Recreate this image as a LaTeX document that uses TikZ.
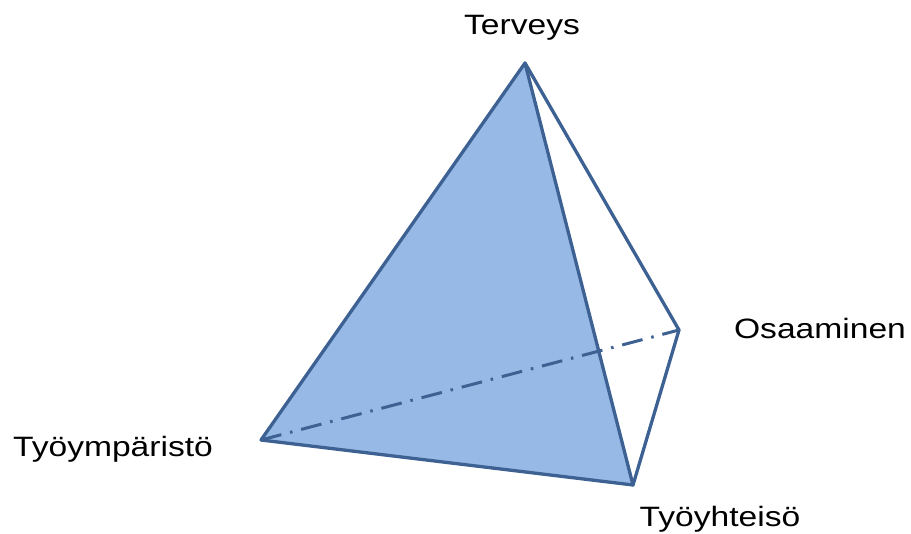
\documentclass[tikz,border=0pt]{standalone}
\usepackage{fontspec}
\setmainfont{Liberation Sans}
\begin{document}
\begin{tikzpicture}[x=1pt,y=-1pt,
  edge/.style={draw=edgecol,line width=3.3pt,line join=round,line cap=round},
  hidden/.style={draw=edgecol,line width=3pt,dash pattern=on 21pt off 9pt on 2.5pt off 9pt},
  lbl/.style={anchor=base,xscale=1.2,font=\fontsize{28}{31}\selectfont,inner sep=0pt}]
\definecolor{edgecol}{HTML}{3C6192}
\definecolor{facecol}{HTML}{97B9E6}
\useasboundingbox (0,0) rectangle (911,534);
\coordinate (T) at (525,63);
\coordinate (L) at (261,440);
\coordinate (B) at (633,485);
\coordinate (R) at (679,330);
\fill[facecol] (T) -- (L) -- (B) -- cycle;
\draw[hidden] (L) -- (R);
\draw[edge] (T) -- (L) -- (B) -- cycle;
\draw[edge] (T) -- (R) -- (B);
\node[lbl] (t) at (522,35) {Terveys};
\node[lbl] (o) at (820,339) {Osaaminen};
\node[lbl] (l) at (113,457) {Työympäristö};
\node[lbl] (b) at (720,527) {Työyhteisö};
\end{tikzpicture}
\end{document}
